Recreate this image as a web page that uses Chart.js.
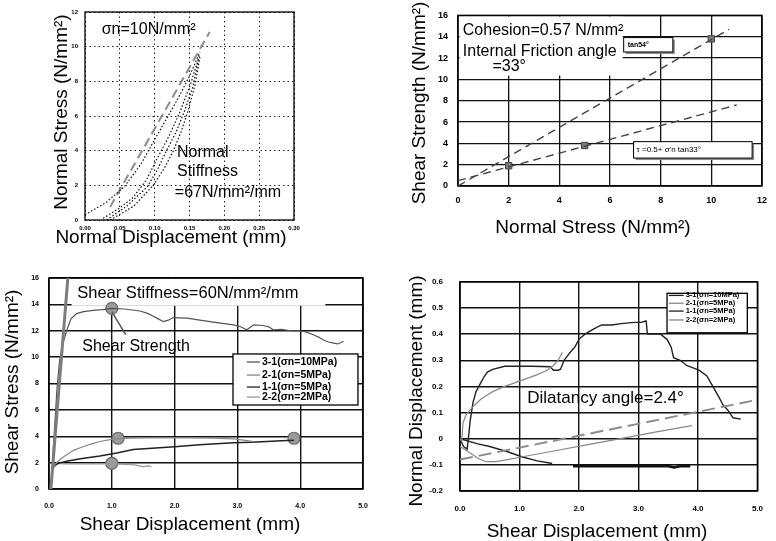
<!DOCTYPE html>
<html>
<head>
<meta charset="utf-8">
<script src="https://cdn.jsdelivr.net/npm/chart.js@4.4.1/dist/chart.umd.min.js"></script>
<style>
  body { margin: 0; background: #fff; width: 776px; height: 541px; position: relative; overflow: hidden; }
  canvas { position: absolute; }
</style>
</head>
<body>
<canvas id="c1" width="310" height="250" style="left:0;top:0"></canvas>
<canvas id="c2" width="376" height="245" style="left:400px;top:0"></canvas>
<canvas id="c3" width="390" height="281" style="left:0;top:260px"></canvas>
<canvas id="c4" width="386" height="281" style="left:390px;top:260px"></canvas>
<script>
// --- normal stiffness test (top left)
let loopAX = [0.000, 0.030, 0.056, 0.080, 0.098, 0.115, 0.132, 0.150, 0.165];
let loopAY = [0.3, 1.0, 1.9, 3.2, 4.5, 5.7, 6.9, 8.3, 9.7];
let loopBX = [0.026, 0.050, 0.069, 0.088, 0.103, 0.120, 0.136, 0.152, 0.165];
let loopBY = [0.1, 0.7, 1.3, 2.3, 3.5, 4.8, 6.2, 7.9, 9.6];
let loopCX = [0.031, 0.060, 0.089, 0.104, 0.117, 0.131, 0.143, 0.155, 0.163];
let loopCY = [0.0, 0.8, 1.9, 2.9, 4.0, 5.1, 6.3, 7.7, 9.3];
let loopDX = [0.036, 0.070, 0.098, 0.114, 0.127, 0.138, 0.148, 0.158, 0.165];
let loopDY = [0.0, 0.8, 2.0, 3.0, 4.0, 5.1, 6.3, 7.8, 9.4];
let knX = [0.036, 0.179];
let knY = [0.75, 10.85];

// --- failure envelope (top right)
let sigmaN = [2, 5, 10];
let tauMax = [1.9, 3.8, 13.8];
let env54X = [0, 10.7];
let env54Y = [0, 14.7];
let env33X = [0, 11];
let env33Y = [0.5, 7.6];

// --- shear stress vs shear displacement (bottom left)
let ksX = [0.03, 0.30];
let ksY = [0, 16];
let s31X = [0.03, 0.09, 0.13, 0.17, 0.22, 0.28, 0.35, 0.44, 0.55, 0.70, 0.85, 1.00, 1.20, 1.45, 1.58, 1.66, 1.74, 1.82, 1.90, 1.98, 2.20, 2.40, 2.70, 2.94, 3.05, 3.15, 3.26, 3.41, 3.50, 3.57, 3.70, 3.85, 4.00, 4.10, 4.21, 4.30, 4.37, 4.45, 4.53, 4.60, 4.69];
let s31Y = [0, 4.75, 7.8, 9.8, 11.0, 12.0, 12.9, 13.3, 13.45, 13.55, 13.6, 13.7, 13.65, 13.5, 13.3, 13.1, 12.9, 12.7, 12.8, 13.0, 12.95, 12.8, 12.6, 12.45, 12.3, 12.07, 12.45, 12.4, 12.3, 12.07, 12.1, 12.0, 12.0, 11.9, 11.7, 11.5, 11.3, 11.15, 11.06, 11.0, 11.2];
let s21X = [0.05, 0.10, 0.18, 0.28, 0.40, 0.54, 0.68, 0.81, 0.95, 1.07, 1.30, 1.60, 1.87, 2.20, 2.60, 2.94, 3.10, 3.26];
let s21Y = [1.6, 1.9, 2.25, 2.6, 2.95, 3.2, 3.42, 3.6, 3.72, 3.8, 3.85, 3.88, 3.9, 3.88, 3.85, 3.8, 3.7, 3.6];
let s11X = [0.05, 0.15, 0.28, 0.50, 0.81, 1.10, 1.34, 1.70, 2.00, 2.40, 2.94, 3.20, 3.47, 3.70, 3.90];
let s11Y = [1.7, 1.95, 2.1, 2.3, 2.5, 2.75, 3.0, 3.1, 3.2, 3.35, 3.5, 3.55, 3.6, 3.65, 3.7];
let s22X = [0.05, 0.14, 0.25, 0.54, 1.00, 1.34, 1.50, 1.57, 1.63];
let s22Y = [1.5, 1.95, 1.9, 1.9, 1.9, 1.85, 1.7, 1.75, 1.72];
let peakX = [1.0, 1.1, 3.9, 1.0];
let peakY = [13.7, 3.85, 3.85, 1.95];
let arrowX = [1.0, 1.22];
let arrowY = [13.45, 11.7];

// --- normal displacement vs shear displacement (bottom right)
let d31X = [0, 0.06, 0.12, 0.15, 0.17, 0.22, 0.27, 0.33, 0.40, 0.46, 0.55, 0.75, 1.00, 1.20, 1.52, 1.57, 1.65, 1.69, 1.75, 1.85, 1.93, 2.00, 2.10, 2.25, 2.38, 2.55, 2.71, 2.93, 3.05, 3.12, 3.13, 3.15, 3.25, 3.37, 3.48, 3.55, 3.59, 3.70, 3.81, 3.93, 4.03, 4.15, 4.25, 4.35, 4.42, 4.50, 4.59, 4.72];
let d31Y = [0, -0.03, -0.04, 0.02, 0.067, 0.14, 0.18, 0.206, 0.235, 0.255, 0.265, 0.277, 0.277, 0.277, 0.275, 0.262, 0.262, 0.266, 0.30, 0.33, 0.35, 0.38, 0.40, 0.42, 0.435, 0.435, 0.44, 0.445, 0.445, 0.45, 0.45, 0.40, 0.40, 0.40, 0.38, 0.35, 0.31, 0.30, 0.28, 0.27, 0.26, 0.24, 0.20, 0.16, 0.13, 0.11, 0.08, 0.075];
let d21X = [0, 0.03, 0.05, 0.10, 0.17, 0.25, 0.36, 0.55, 0.75, 1.00, 1.29, 1.45, 1.57, 1.65, 1.72];
let d21Y = [0, -0.01, 0.06, 0.09, 0.11, 0.13, 0.153, 0.18, 0.20, 0.22, 0.244, 0.26, 0.28, 0.30, 0.33];
let d11X = [0, 0.30, 0.50, 0.80, 1.05, 1.30, 1.55];
let d11Y = [0, -0.02, -0.03, -0.05, -0.07, -0.085, -0.095];
let d11bX = [1.90, 3.50, 3.60, 3.70, 3.87];
let d11bY = [-0.105, -0.105, -0.11, -0.105, -0.105];
let d22X = [0, 0.17, 0.30, 0.44, 0.60, 0.80, 1.05, 1.60, 2.15, 2.70, 3.30, 3.90];
let d22Y = [-0.03, -0.055, -0.075, -0.088, -0.088, -0.08, -0.069, -0.046, -0.023, 0, 0.026, 0.05];
let dilX = [0, 4.92];
let dilY = [-0.08, 0.145];

let legendLabels = ['3-1(σn=10MPa)', '2-1(σn=5MPa)', '1-1(σn=5MPa)', '2-2(σn=2MPa)'];

const FONT = "'Liberation Sans', Arial, sans-serif";
Chart.defaults.font.family = FONT;
Chart.defaults.color = '#000';

const pts = (xs, ys) => xs.map((x, i) => ({ x: x, y: ys[i] }));

function line(xs, ys, color, width, dash) {
  return { data: pts(xs, ys), showLine: true, borderColor: color, borderWidth: width,
           borderDash: dash || [], pointRadius: 0, tension: 0, fill: false };
}

function px(chart, x, y) {
  return [chart.scales.x.getPixelForValue(x), chart.scales.y.getPixelForValue(y)];
}

function say(ctx, str, x, y, font, align, rot) {
  ctx.save();
  ctx.translate(x, y);
  ctx.rotate(rot || 0);
  ctx.font = font;
  ctx.fillStyle = '#000';
  ctx.textAlign = align || 'left';
  ctx.textBaseline = 'middle';
  ctx.fillText(str, 0, 0);
  ctx.restore();
}

// boxes, frame, notes, legend and axis titles
function extras(cfg) {
  return {
    id: 'extras',
    beforeDatasetsDraw(chart) {
      const ctx = chart.ctx;
      (cfg.boxes || []).forEach(b => {
        const [x1, y1] = px(chart, b.x1, b.y1);
        const [x2, y2] = px(chart, b.x2, b.y2);
        const l = Math.min(x1, x2), t = Math.min(y1, y2), w = Math.abs(x2 - x1), h = Math.abs(y2 - y1);
        if (b.shadow) { ctx.fillStyle = '#8a8a8a'; ctx.fillRect(l + 2, t + 2, w, h); }
        ctx.fillStyle = '#fff';
        ctx.fillRect(l, t, w, h);
        if (b.stroke) { ctx.strokeStyle = '#000'; ctx.lineWidth = b.stroke; ctx.strokeRect(l, t, w, h); }
      });
      const a = chart.chartArea;
      ctx.strokeStyle = '#000';
      ctx.lineWidth = cfg.frame;
      ctx.strokeRect(a.left, a.top, a.right - a.left, a.bottom - a.top);
    },
    afterDatasetsDraw(chart) {
      const ctx = chart.ctx;
      (cfg.notes || []).forEach(n => {
        const [x, y] = px(chart, n.x, n.y);
        say(ctx, n.text, x, y, n.font);
      });
      if (cfg.legend) {
        const L = cfg.legend;
        legendLabels.forEach((lab, i) => {
          const [x1, y] = px(chart, L.x1, L.rows[i]);
          const [x2] = px(chart, L.x2, L.rows[i]);
          ctx.strokeStyle = L.colors[i];
          ctx.lineWidth = 1.3;
          ctx.beginPath(); ctx.moveTo(x1, y); ctx.lineTo(x2, y); ctx.stroke();
          say(ctx, lab, x2 + 2, y, L.font);
        });
      }
      (cfg.titles || []).forEach(t => say(ctx, t.text, t.x, t.y, t.font, 'center', t.rot));
    }
  };
}

function axis(min, max, step, fmt, size, pad, fit, grid) {
  return {
    type: 'linear', min: min, max: max,
    ticks: { stepSize: step, callback: fmt, padding: pad, font: { size: size, weight: 'bold' }, maxRotation: 0, autoSkip: false },
    grid: Object.assign({ drawTicks: false, color: '#111', lineWidth: 1.4 }, grid.grid || {}),
    border: { display: false, dash: grid.dash || [] },
    afterFit: fit
  };
}

function baseOptions(padding) {
  return {
    responsive: false, animation: false, devicePixelRatio: 1,
    layout: { padding: padding },
    plugins: { legend: { display: false }, tooltip: { enabled: false } }
  };
}

const TITLE = '19px ' + FONT;
const NOTE = '16px ' + FONT;

// chart 1: normal stiffness
let o1 = baseOptions({ top: 12, right: 16, left: 0, bottom: 0 });
o1.scales = {
  x: axis(0, 0.30, 0.05, v => v.toFixed(2), 6, 5, s => { s.height = 30; }, { dash: [1.5, 3], grid: { lineWidth: 1, color: '#222' } }),
  y: axis(0, 12, 2, v => v, 6, 7, s => { s.width = 85; }, { dash: [1.5, 3], grid: { lineWidth: 1, color: '#222' } })
};
new Chart(document.getElementById('c1'), {
  type: 'scatter',
  data: { datasets: [
    line(loopAX, loopAY, '#111', 1.2, [1.5, 2]),
    line(loopBX, loopBY, '#111', 1.2, [1.5, 2]),
    line(loopCX, loopCY, '#111', 1.2, [1.5, 2]),
    line(loopDX, loopDY, '#111', 1.2, [1.5, 2]),
    line(knX, knY, '#8c8c8c', 2, [9, 5])
  ] },
  options: o1,
  plugins: [extras({
    frame: 1.3,
    notes: [
      { text: 'σn=10N/mm²', x: 0.024, y: 10.96, font: NOTE },
      { text: 'Normal', x: 0.132, y: 3.87, font: NOTE },
      { text: 'Stiffness', x: 0.132, y: 2.77, font: NOTE },
      { text: '=67N/mm²/mm', x: 0.129, y: 1.56, font: NOTE }
    ],
    titles: [
      { text: 'Normal Stress (N/mm²)', x: 62, y: 112, font: TITLE, rot: -Math.PI / 2 },
      { text: 'Normal Displacement (mm)', x: 171, y: 238, font: TITLE }
    ]
  })]
});

// chart 2: failure envelope
let o2 = baseOptions({ top: 9, right: 8, left: 0, bottom: 0 });
o2.scales = {
  x: axis(0, 12, 2, v => v, 9, 9, s => { s.height = 59; }, { grid: { lineWidth: 1.3 } }),
  y: axis(0, 16, 2, v => v, 9, 10, s => { s.width = 58; }, { grid: { lineWidth: 1.3 } })
};
new Chart(document.getElementById('c2'), {
  type: 'scatter',
  data: { datasets: [
    line(env54X, env54Y, '#444', 1.4, [8, 5]),
    line(env33X, env33Y, '#444', 1.4, [8, 5]),
    { data: pts(sigmaN, tauMax), pointStyle: 'rect', pointRadius: 4.5, backgroundColor: '#7a7a7a', borderColor: '#444', borderWidth: 1 }
  ] },
  options: o2,
  plugins: [extras({
    frame: 1.5,
    boxes: [
      { x1: 0.06, y1: 15.9, x2: 6.5, y2: 10.35 },
      { x1: 6.54, y1: 13.92, x2: 8.48, y2: 12.57, stroke: 1, shadow: true },
      { x1: 6.93, y1: 4.16, x2: 11.61, y2: 2.62, stroke: 1, shadow: true }
    ],
    notes: [
      { text: 'Cohesion=0.57 N/mm²', x: 0.19, y: 14.56, font: NOTE },
      { text: 'Internal Friction angle', x: 0.19, y: 12.57, font: NOTE },
      { text: '=33°', x: 1.36, y: 11.2, font: NOTE },
      { text: 'tan54°', x: 6.7, y: 13.25, font: 'bold 7px ' + FONT },
      { text: "τ =0.5+ σ'n tan33°", x: 7.05, y: 3.4, font: '8px ' + FONT }
    ],
    titles: [
      { text: 'Shear Strength (N/mm²)', x: 20, y: 103, font: TITLE, rot: -Math.PI / 2 },
      { text: 'Normal Stress (N/mm²)', x: 193, y: 228, font: TITLE }
    ]
  })]
});

// chart 3: shear stress
let o3 = baseOptions({ top: 18, right: 27, left: 0, bottom: 0 });
o3.scales = {
  x: axis(0, 5, 1, v => v.toFixed(1), 7, 13, s => { s.height = 52; }, {}),
  y: axis(0, 16, 2, v => v, 7, 10, s => { s.width = 49; }, {})
};
new Chart(document.getElementById('c3'), {
  type: 'scatter',
  data: { datasets: [
    line(ksX, ksY, '#7d7d7d', 3),
    line(s31X, s31Y, '#555', 1.2),
    line(s21X, s21Y, '#888', 1.2),
    line(s11X, s11Y, '#222', 1.5),
    line(s22X, s22Y, '#999', 1.2),
    line(arrowX, arrowY, '#555', 1.5),
    { data: pts(peakX, peakY), pointRadius: 6, backgroundColor: '#9a9a9a', borderColor: '#6a6a6a', borderWidth: 1.2 }
  ] },
  options: o3,
  plugins: [extras({
    frame: 1.5,
    boxes: [
      { x1: 0.36, y1: 15.93, x2: 4.4, y2: 13.9 },
      { x1: 2.93, y1: 10.24, x2: 4.92, y2: 6.37, stroke: 1.3 }
    ],
    notes: [
      { text: 'Shear Stiffness=60N/mm²/mm', x: 0.45, y: 14.86, font: '16.5px ' + FONT },
      { text: 'Shear Strength', x: 0.53, y: 10.77, font: NOTE }
    ],
    legend: { x1: 3.15, x2: 3.36, rows: [9.63, 8.64, 7.73, 6.97], colors: ['#555', '#888', '#222', '#999'], font: 'bold 10.5px ' + FONT },
    titles: [
      { text: 'Shear Stress (N/mm²)', x: 13, y: 122, font: TITLE, rot: -Math.PI / 2 },
      { text: 'Shear Displacement (mm)', x: 190, y: 265, font: TITLE }
    ]
  })]
});

// chart 4: dilatancy
let o4 = baseOptions({ top: 18, right: 14, left: 0, bottom: 0 });
o4.scales = {
  x: axis(0, 5, 1, v => v.toFixed(1), 8, 13, s => { s.height = 50; }, {}),
  y: axis(-0.2, 0.6, 0.1, v => Math.abs(v) < 1e-9 ? '0' : v.toFixed(1), 8, 17, s => { s.width = 70; }, {})
};
new Chart(document.getElementById('c4'), {
  type: 'scatter',
  data: { datasets: [
    line(dilX, dilY, '#8c8c8c', 2, [13, 6]),
    line(d22X, d22Y, '#888', 1.2),
    line(d21X, d21Y, '#888', 1.2),
    line(d11X, d11Y, '#222', 1.4),
    line(d11bX, d11bY, '#111', 2.6),
    line(d31X, d31Y, '#222', 1.4)
  ] },
  options: o4,
  plugins: [extras({
    frame: 1.5,
    boxes: [
      { x1: 3.48, y1: 0.556, x2: 4.83, y2: 0.405, stroke: 1.3 }
    ],
    notes: [
      { text: 'Dilatancy angle=2.4°', x: 1.13, y: 0.153, font: '17px ' + FONT }
    ],
    legend: { x1: 3.51, x2: 3.76, rows: [0.548, 0.518, 0.488, 0.454], colors: ['#222', '#888', '#222', '#888'], font: 'bold 7.5px ' + FONT },
    titles: [
      { text: 'Normal Displacement (mm)', x: 27, y: 131, font: TITLE, rot: -Math.PI / 2 },
      { text: 'Shear Displacement (mm)', x: 207, y: 272, font: TITLE }
    ]
  })]
});
</script>
</body>
</html>
